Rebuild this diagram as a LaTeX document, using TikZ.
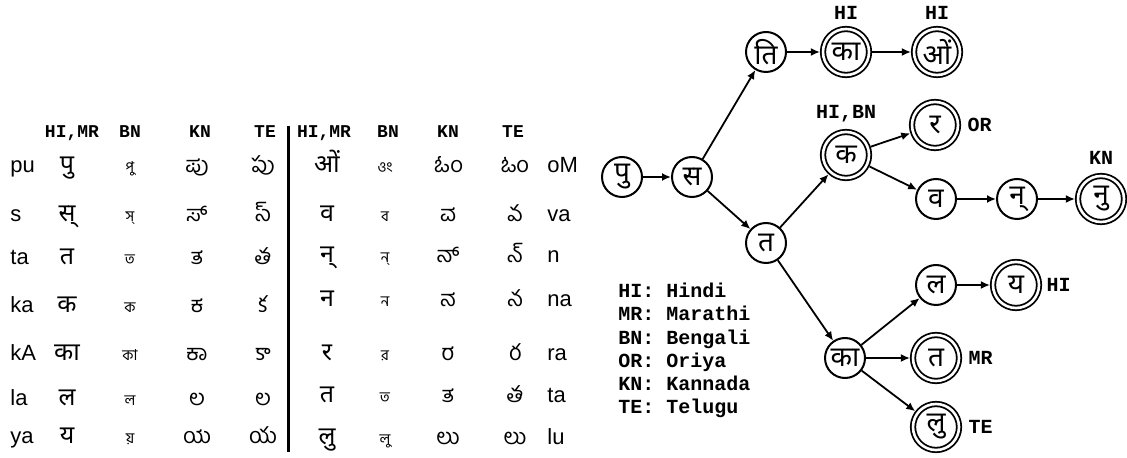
\documentclass[tikz,border=0pt]{standalone}
\usepackage{fontspec}
\setmainfont{Liberation Sans}
\newfontfamily\devafont[Script=Devanagari]{Noto Sans}
\newfontfamily\bengfont[Script=Bengali]{Hind Siliguri}
\newfontfamily\kannfont[Script=Kannada]{Hind Mysuru}
\newfontfamily\telufont[Script=Telugu]{Hind Guntur}
\newfontfamily\codefont{Liberation Mono}
\usepackage{tikz}
\usetikzlibrary{positioning,arrows.meta}

\begin{document}
\begin{tikzpicture}[x=0.5pt,y=-0.5pt,
    cell/.style={anchor=base,inner sep=0pt},
    roman/.style={anchor=base west,inner sep=0pt,font=\fontsize{11}{12}\selectfont},
    deva/.style={cell,font=\devafont\fontsize{12.5}{13}\selectfont},
    beng/.style={cell,font=\bengfont\fontsize{7.5}{8}\selectfont},
    kann/.style={cell,font=\kannfont\fontsize{11}{12}\selectfont},
    telu/.style={cell,font=\telufont\fontsize{11}{12}\selectfont},
    head/.style={cell,font=\codefont\bfseries\fontsize{9}{10}\selectfont},
    state/.style={circle,draw,line width=1pt,minimum size=20pt,inner sep=0pt,
        font=\devafont\fontsize{14}{14}\selectfont},
    final/.style={state,line width=0.9pt,double,double distance=1.3pt,
        minimum size=23pt,outer sep=1.55pt},
    tag/.style={inner sep=2pt,font=\codefont\bfseries\fontsize{10}{10}\selectfont},
    keytext/.style={anchor=base west,inner sep=0pt,font=\codefont\bfseries\fontsize{10}{10}\selectfont},
    link/.style={-{Latex[length=4.5pt,width=4pt]},line width=0.9pt}]
    \useasboundingbox (0,0) rectangle (1127,458);

    % Table headers
    \foreach \x/\h [count=\i] in {72/{HI,MR}, 130/BN, 200/KN, 265/TE, 324/{HI,MR}, 388/BN, 448/KN, 513/TE}
        \node[head] (h\i) at (\x,138) {\h};

    % Left half of the table
    \foreach \y/\r/\d/\b/\k/\t [count=\i] in {173/pu/पु/পু/ಪು/పు, 222/s/स्/স্/ಸ್/స్,
        265/ta/त/ত/ತ/త, 313/ka/क/ক/ಕ/క, 360/kA/का/কা/ಕಾ/కా, 405/la/ल/ল/ಲ/ల, 443/ya/य/য়/ಯ/య}
    {
        \node[roman] (lr\i) at (10,\y) {\r};
        \node[deva] (ld\i) at (67,\y) {\d};
        \node[beng] (lb\i) at (130,\y) {\b};
        \node[kann] (lk\i) at (197,\y) {\k};
        \node[telu] (lt\i) at (263,\y) {\t};
    }

    % Right half of the table
    \foreach \y/\r/\d/\b/\k/\t [count=\i] in {173/oM/ओं/ওং/ಓಂ/ఓం, 222/va/व/ব/ವ/వ,
        263/n/न्/ন্/ನ್/న్, 307/na/न/ন/ನ/న, 360/ra/र/র/ರ/ర, 402/ta/त/ত/ತ/త, 444/lu/लु/লু/ಲು/లు}
    {
        \node[deva] (rd\i) at (327,\y) {\d};
        \node[beng] (rb\i) at (385,\y) {\b};
        \node[kann] (rk\i) at (448,\y) {\k};
        \node[telu] (rt\i) at (515,\y) {\t};
        \node[roman] (rr\i) at (547,\y) {\r};
    }

    % Separator
    \draw[line width=1.5pt] (288,126) -- (288,452);

    % Trie states
    \node[state] (pu) at (622,177) {पु};
    \node[state] (sa) at (692,177) {स};
    \node[state] (ti) at (766,52) {ति};
    \node[final] (kaa) at (846,52) {का};
    \node[final] (om) at (937,52) {ओं};
    \node[state] (ta) at (766,243) {त};
    \node[final] (ka) at (846,155) {क};
    \node[final] (ra) at (935,125) {र};
    \node[state] (va) at (936,199) {व};
    \node[state] (nh) at (1017,199) {न्};
    \node[final] (nu) at (1101,199) {नु};
    \node[state] (kA) at (845,358) {का};
    \node[state] (la) at (936,285) {ल};
    \node[final] (ya) at (1016,285) {य};
    \node[final] (tt) at (936,358) {त};
    \node[final] (lu) at (936,427) {लु};

    % Language tags
    \node[tag,above=1pt of kaa] (tkaa) {HI};
    \node[tag,above=1pt of om] (tom) {HI};
    \node[tag,above=1pt of ka] (tka) {HI,BN};
    \node[tag,right=1pt of ra] (tra) {OR};
    \node[tag,above=2pt of nu] (tnu) {KN};
    \node[tag,right=0pt of ya] (tya) {HI};
    \node[tag,right=1pt of tt] (ttt) {MR};
    \node[tag,right=1pt of lu] (tlu) {TE};

    % Transitions
    \draw[link] (pu) -- (sa);
    \draw[link] (sa) -- (ti);
    \draw[link] (sa) -- (ta);
    \draw[link] (ti) -- (kaa);
    \draw[link] (kaa) -- (om);
    \draw[link] (ta) -- (ka);
    \draw[link] (ta) -- (kA);
    \draw[link] (ka) -- (ra);
    \draw[link] (ka) -- (va);
    \draw[link] (va) -- (nh);
    \draw[link] (nh) -- (nu);
    \draw[link] (kA) -- (la);
    \draw[link] (la) -- (ya);
    \draw[link] (kA) -- (tt);
    \draw[link] (kA) -- (lu);

    % Key
    \foreach \y/\t [count=\i] in {298/HI: Hindi, 321/MR: Marathi, 344/BN: Bengali,
        367/OR: Oriya, 390/KN: Kannada, 413/TE: Telugu}
        \node[keytext] (key\i) at (618,\y) {\t};
\end{tikzpicture}
\end{document}
